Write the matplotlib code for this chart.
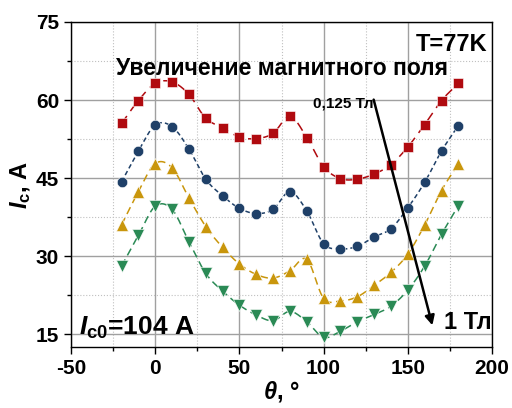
import numpy as np
import matplotlib
matplotlib.use("Agg")
import matplotlib.pyplot as plt
from matplotlib.ticker import MultipleLocator

plt.rcParams['font.family'] = ['Liberation Sans', 'DejaVu Sans']
plt.rcParams['font.weight'] = 'bold'
plt.rcParams['axes.labelweight'] = 'bold'
plt.rcParams['axes.unicode_minus'] = False
plt.rcParams['mathtext.fontset'] = 'custom'
plt.rcParams['mathtext.rm'] = 'Liberation Sans:bold'
plt.rcParams['mathtext.bf'] = 'Liberation Sans:bold'
plt.rcParams['mathtext.it'] = 'Liberation Sans:bold:italic'

theta = [-20, -10, 0, 10, 20, 30, 40, 50, 60, 70, 80, 90, 100, 110, 120, 130, 140, 150, 160, 170, 180]
ic_0125 = [55.5, 59.9, 63.2, 63.5, 61.1, 56.5, 54.7, 52.9, 52.6, 53.6, 56.9, 52.8, 47.2, 44.9, 44.8, 45.8, 47.6, 51.0, 55.3, 59.9, 63.2]
ic_025 = [44.3, 50.2, 55.2, 54.9, 50.6, 44.8, 41.6, 39.2, 38.2, 39.0, 42.4, 38.7, 32.4, 31.4, 31.9, 33.7, 35.3, 39.3, 44.2, 50.2, 55.1]
ic_05 = [36.0, 42.4, 47.8, 47.0, 41.2, 35.7, 31.7, 28.5, 26.5, 25.8, 27.2, 29.4, 21.9, 21.4, 22.2, 24.4, 26.9, 30.4, 36.0, 42.6, 47.8]
ic_1 = [28.1, 34.0, 39.6, 39.0, 32.8, 26.7, 23.3, 20.6, 18.7, 17.6, 19.4, 17.4, 14.4, 15.6, 17.4, 18.8, 20.4, 23.5, 28.1, 34.2, 39.7]

colors = ['#b00a0f', '#1f4068', '#c9960c', '#2a8a55']
markers = ['s', 'o', '^', 'v']
dashes = [(6, 4), (3, 2), (5, 3), (5, 3)]
series = [ic_0125, ic_025, ic_05, ic_1]


def catmull(x, y, n=12):
    x = np.asarray(x, float)
    y = np.asarray(y, float)
    P = np.column_stack([x, y])
    P = np.vstack([2 * P[0] - P[1], P, 2 * P[-1] - P[-2]])
    out = []
    t = np.linspace(0, 1, n, endpoint=False)[:, None]
    for i in range(1, len(P) - 2):
        p0, p1, p2, p3 = P[i - 1], P[i], P[i + 1], P[i + 2]
        seg = 0.5 * ((2 * p1) + (-p0 + p2) * t + (2 * p0 - 5 * p1 + 4 * p2 - p3) * t ** 2
                     + (-p0 + 3 * p1 - 3 * p2 + p3) * t ** 3)
        out.append(seg)
    out.append(P[-2][None, :])
    out = np.vstack(out)
    return out[:, 0], out[:, 1]


fig = plt.figure(figsize=(5.12, 4.08), dpi=100)
ax = fig.add_axes([0.1387, 0.1488, 0.8223, 0.7973])

for vals, c, m, d in zip(series, colors, markers, dashes):
    sx, sy = catmull(theta, vals)
    ax.plot(sx, sy, color=c, lw=1.1, dashes=d, zorder=3)
    ax.plot(theta, vals, linestyle='none', marker=m, color=c, ms=7.5 if m in 'so' else 8.5,
            markeredgecolor='white', markeredgewidth=0.4, zorder=4)

ax.set_xlim(-50, 200)
ax.set_ylim(12.5, 75)
ax.xaxis.set_major_locator(MultipleLocator(50))
ax.xaxis.set_minor_locator(MultipleLocator(25))
ax.yaxis.set_major_locator(MultipleLocator(15))
ax.yaxis.set_minor_locator(MultipleLocator(7.5))
ax.grid(which='major', color='#a0a0a0', lw=1.0, zorder=0)
ax.grid(which='minor', color='#c0c0c0', lw=0.8, linestyle=':', zorder=0)
ax.set_axisbelow(True)
ax.tick_params(which='major', direction='out', length=5, width=1, labelsize=15)
ax.tick_params(which='minor', direction='out', length=3, width=1)
for lab in ax.get_xticklabels() + ax.get_yticklabels():
    lab.set_fontweight('bold')
for s in ax.spines.values():
    s.set_linewidth(1.0)

ax.set_xlabel(r'$\theta$, °', fontsize=17, labelpad=1, fontweight='bold')
ax.set_ylabel(r'$I_{\mathrm{c}}$, A', fontsize=17, labelpad=2, fontweight='bold')

ax.text(197, 70.6, 'T=77K', ha='right', va='center', fontsize=17, fontweight='bold')
ax.text(75.5, 66.0, 'Увеличение магнитного поля', ha='center', va='center', fontsize=16.5, fontweight='bold')
ax.text(111.8, 59.4, '0,125 Тл', ha='center', va='center', fontsize=11, fontweight='bold')
ax.text(171.5, 17.3, '1 Тл', ha='left', va='center', fontsize=17, fontweight='bold')
ax.text(-45, 16.3, r'$I_{\mathrm{c0}}$=104 A', ha='left', va='center', fontsize=19, fontweight='bold')

ax.annotate('', xy=(165.0, 16.2), xytext=(129.3, 60.6),
            arrowprops=dict(arrowstyle='-|>', color='black', lw=1.8, mutation_scale=14), zorder=5)

fig.savefig('out.png', dpi=100)
